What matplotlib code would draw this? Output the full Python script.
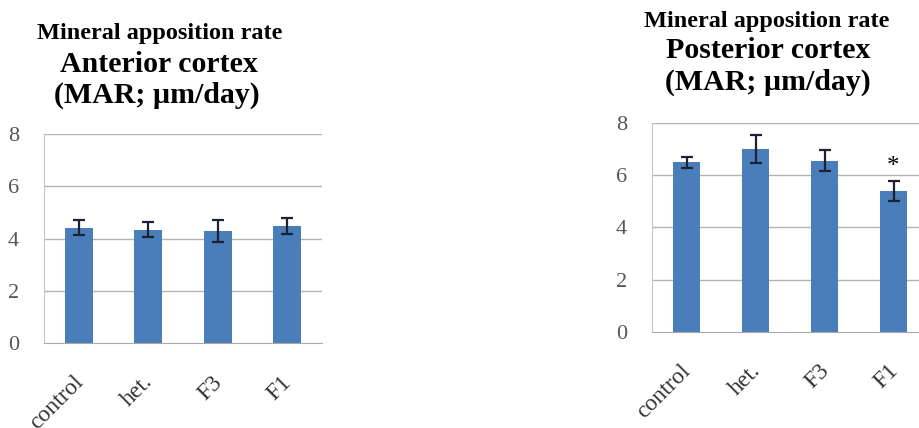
import numpy as np
import matplotlib.pyplot as plt

groups = ['control', 'het.', 'F3', 'F1']

# MAR values (um/day) and error bars, anterior and posterior cortex
ant_mar = [4.42, 4.33, 4.29, 4.48]
ant_err = [0.27, 0.29, 0.42, 0.30]
post_mar = [6.50, 7.01, 6.56, 5.41]
post_err = [0.22, 0.54, 0.41, 0.38]
post_sig = ['', '', '', '*']

bar_color = '#4a7ebb'
grid_color = '#b4b4b4'
serif = ['Liberation Serif', 'DejaVu Serif']

fig = plt.figure(figsize=(9.19, 4.28), dpi=100)


def panel(rect, vals, errs, marks=None):
    ax = fig.add_axes(rect)
    x = np.arange(len(groups))
    ax.bar(x, vals, width=0.4, color=bar_color, zorder=2)
    ax.errorbar(x, vals, yerr=errs, fmt='none', ecolor='#1c2233',
                elinewidth=1.6, capsize=4, capthick=1.6, zorder=3)
    ax.set_xlim(-0.5, 3.5)
    ax.set_ylim(0, 8)
    ax.set_yticks([0, 2, 4, 6, 8])
    for y in [2, 4, 6, 8]:
        ax.axhline(y, color=grid_color, lw=1.0, zorder=1)
    ax.spines['right'].set_visible(False)
    ax.spines['top'].set_visible(False)
    ax.spines['left'].set_color('#c8c8c8')
    ax.spines['bottom'].set_color('#a8a8a8')
    ax.tick_params(axis='both', length=0)
    ax.tick_params(axis='y', pad=18, labelcolor='#555555')
    ax.set_yticklabels([str(v) for v in [0, 2, 4, 6, 8]],
                       fontsize=16, family=serif)
    ax.set_xticks(x + 0.02)
    ax.set_xticklabels(groups, rotation=45, ha='right', va='center',
                       rotation_mode='anchor', fontsize=17, family=serif,
                       color='#333333')
    ax.tick_params(axis='x', pad=26)
    if marks:
        for xi, v, e, m in zip(x, vals, errs, marks):
            if m:
                ax.text(xi, v + e + 0.55, m, ha='center', va='center',
                        fontsize=18, family=serif)
    return ax


panel([44 / 919, 85 / 428, 278 / 919, 209 / 428], ant_mar, ant_err)
panel([652 / 919, 96.3 / 428, 276 / 919, 208.4 / 428], post_mar, post_err,
      post_sig)

# titles
fig.text(160 / 919, 1 - 33 / 428, 'Mineral apposition rate', ha='center',
         va='center', fontsize=17.5, fontweight='bold', family=serif)
fig.text(159 / 919, 1 - 64 / 428, 'Anterior cortex', ha='center',
         va='center', fontsize=21.5, fontweight='bold', family=serif)
fig.text(157 / 919, 1 - 95 / 428, '(MAR; µm/day)', ha='center',
         va='center', fontsize=21.5, fontweight='bold', family=serif)
fig.text(767 / 919, 1 - 22 / 428, 'Mineral apposition rate', ha='center',
         va='center', fontsize=17.5, fontweight='bold', family=serif)
fig.text(768 / 919, 1 - 51 / 428, 'Posterior cortex', ha='center',
         va='center', fontsize=21.5, fontweight='bold', family=serif)
fig.text(768 / 919, 1 - 82 / 428, '(MAR; µm/day)', ha='center',
         va='center', fontsize=21.5, fontweight='bold', family=serif)

fig.savefig('out.png', dpi=100)
